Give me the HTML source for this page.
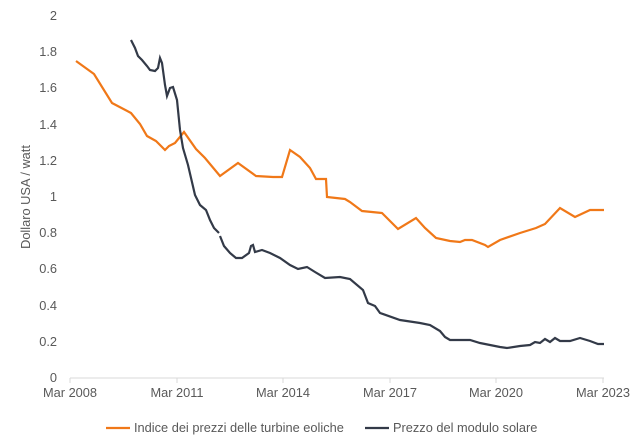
<!DOCTYPE html>
<html><head><style>body{margin:0;background:#fff}svg{display:block}text{font-family:"Liberation Sans",sans-serif;fill:#595959;font-size:12.8px}</style></head><body>
<svg width="640" height="445" xmlns="http://www.w3.org/2000/svg">
<g text-anchor="end">
<text x="57" y="382">0</text><text x="57" y="346">0.2</text><text x="57" y="310">0.4</text><text x="57" y="273">0.6</text><text x="57" y="237">0.8</text><text x="57" y="201">1</text><text x="57" y="165">1.2</text><text x="57" y="129">1.4</text><text x="57" y="92">1.6</text><text x="57" y="56">1.8</text><text x="57" y="20">2</text>
</g>
<text transform="translate(30,197) rotate(-90)" text-anchor="middle">Dollaro USA / watt</text>
<line x1="70" y1="378" x2="604" y2="378" stroke="#d9d9d9"/>
<g stroke="#d9d9d9"><line x1="70" y1="378" x2="70" y2="383"/><line x1="177" y1="378" x2="177" y2="383"/><line x1="283" y1="378" x2="283" y2="383"/><line x1="390" y1="378" x2="390" y2="383"/><line x1="496" y1="378" x2="496" y2="383"/><line x1="603" y1="378" x2="603" y2="383"/></g>
<g text-anchor="middle"><text x="70" y="397">Mar 2008</text><text x="177" y="397">Mar 2011</text><text x="283" y="397">Mar 2014</text><text x="390" y="397">Mar 2017</text><text x="496" y="397">Mar 2020</text><text x="603" y="397">Mar 2023</text></g>
<polyline fill="none" stroke="#f07818" stroke-width="2.2" points="76,61 94,74 112,103 131,113 140,124 147,136 156,141 165,150 169,146 175,143 184,132 196,149 205,158 220,176 238,163 256,176 273,177 282,177 290,150 300,157 310,168 316,179 326,179 327,197 345,199 350,202 362,211 382,213 388,219 398,229 416,218 425,228 436,238 450,241 460,242 465,240 472,240 485,245 488,247 500,240 520,233 536,228 545,224 560,208 575,217 590,210 604,210"/>
<polyline fill="none" stroke="#333a48" stroke-width="2.2" points="131,40 135,48 138,56 142,60 147,66 150,70 155,71 158,68 160,58 162,63 165,85 167,96 170,88 173,87 177,100 180,130 183,148 188,165 195,195 200,205 206,210 210,220 214,228 219,233"/>
<polyline fill="none" stroke="#333a48" stroke-width="2.2" points="220,236 224,246 230,253 236,258 242,258 249,253 251,246 253,245 255,252 262,250 270,253 280,258 290,265 298,269 307,267 315,272 325,278 340,277 350,279 363,290 368,303 375,306 380,313 400,320 420,323 430,325 440,331 445,337 450,340 470,340 480,343 490,345 500,347 507,348 520,346 530,345 535,342 540,343 545,339 550,342 555,338 560,341 570,341 580,338 590,341 598,344 604,344"/>
<line x1="106" y1="428" x2="130" y2="428" stroke="#f07818" stroke-width="2.2"/>
<text x="134" y="432">Indice dei prezzi delle turbine eoliche</text>
<line x1="365" y1="428" x2="389" y2="428" stroke="#333a48" stroke-width="2.2"/>
<text x="393" y="432">Prezzo del modulo solare</text>
</svg>
</body></html>
